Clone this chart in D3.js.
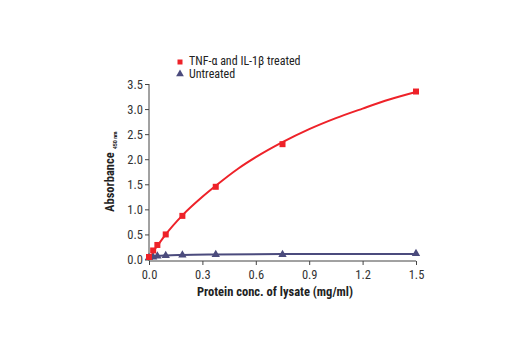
<!DOCTYPE html>
<html><head><meta charset="utf-8">
<script src="https://cdn.jsdelivr.net/npm/d3@7"></script>
<style>
body{margin:0;background:#fff;}
text{font-family:"Liberation Sans Narrow","Arial Narrow","Roboto Condensed",sans-serif;}
</style></head>
<body><svg id="c" width="520" height="350"></svg>
<script>
// concentrations (mg/ml)
const conc = [0, 0.0234, 0.047, 0.094, 0.1875, 0.375, 0.75, 1.5];
const treated = [0.05, 0.18, 0.29, 0.50, 0.87, 1.45, 2.30, 3.35];
const untreated = [0.04, 0.05, 0.07, 0.08, 0.09, 0.10, 0.10, 0.12];
// fitted curve
const fitX = [0.01, 0.0234, 0.047, 0.094, 0.1875, 0.3, 0.375, 0.5, 0.6, 0.75, 0.9, 1.05, 1.2, 1.35, 1.5];
const fitY = [0.0, 0.15, 0.27, 0.50, 0.88, 1.25, 1.47, 1.81, 2.04, 2.34, 2.60, 2.82, 3.01, 3.19, 3.34];
const fitUX = [0, 0.047, 0.094, 0.1875, 0.375, 0.75, 1.5];
const fitUY = [0.05, 0.07, 0.08, 0.09, 0.10, 0.11, 0.11];
const xTicks = [0, 0.3, 0.6, 0.9, 1.2, 1.5];
const yTicks = [0, 0.5, 1.0, 1.5, 2.0, 2.5, 3.0, 3.5];
const seriesNames = ["TNF-\u03b1 and IL-1\u03b2 treated", "Untreated"];
const red = "#ee2229", navy = "#4b4b7d";

const svg = d3.select("#c");
const x = d3.scaleLinear().domain([0, 1.5]).range([149, 416]);
const y = d3.scaleLinear().domain([0, 3.5]).range([259.5, 84]);

const axCol = "#444";
const gx = svg.append("g").attr("transform", "translate(0,261)")
  .call(d3.axisBottom(x).tickValues(xTicks).tickFormat(d3.format(".1f")).tickSize(4).tickSizeOuter(0));
const gy = svg.append("g").attr("transform", "translate(149,0)")
  .call(d3.axisLeft(y).tickValues(yTicks).tickFormat(d3.format(".1f")).tickSize(4).tickSizeOuter(0));
[gx, gy].forEach(g => {
  g.select(".domain").attr("stroke", axCol).attr("stroke-width", 1);
  g.selectAll(".tick line").attr("stroke", axCol);
  g.selectAll(".tick text").attr("fill", "#333").attr("font-size", 12.5)
    .attr("font-family", '"Liberation Sans Narrow","Arial Narrow",sans-serif');
});
gx.select(".domain").attr("d", "M149,0H416");
gy.select(".domain").attr("d", "M0,84V261");
gx.selectAll(".tick text").attr("dy", "0.9em");
gy.selectAll(".tick text").attr("x", -6);

// fit lines
const line = d3.line().x(d => x(d[0])).y(d => y(d[1])).curve(d3.curveMonotoneX);
svg.append("path").datum(fitUX.map((v, i) => [v, fitUY[i]]))
  .attr("d", line).attr("fill", "none").attr("stroke", navy).attr("stroke-width", 2);
svg.append("path").datum(fitX.map((v, i) => [v, fitY[i]]))
  .attr("d", line).attr("fill", "none").attr("stroke", red).attr("stroke-width", 2);

// markers
const tri = d3.symbol().type(d3.symbolTriangle).size(30);
svg.append("g").selectAll("path").data(conc.map((v, i) => [v, untreated[i]])).join("path")
  .attr("d", tri).attr("transform", d => `translate(${x(d[0])},${y(d[1])})`).attr("fill", navy);
svg.append("g").selectAll("rect").data(conc.map((v, i) => [v, treated[i]])).join("rect")
  .attr("x", d => x(d[0]) - 3).attr("y", d => y(d[1]) - 3).attr("width", 6).attr("height", 6).attr("fill", red);

// legend
const lg = svg.append("g");
lg.append("rect").attr("x", 177.5).attr("y", 59.5).attr("width", 5).attr("height", 5).attr("fill", red);
lg.append("path").attr("d", d3.symbol().type(d3.symbolTriangle).size(26)).attr("transform", "translate(180,74)").attr("fill", navy);
lg.append("text").attr("x", 189).attr("y", 65).attr("font-size", 12).attr("fill", "#222").text(seriesNames[0]);
lg.append("text").attr("x", 189).attr("y", 78).attr("font-size", 12).attr("fill", "#222").text(seriesNames[1]);

// axis titles
svg.append("text").attr("x", 275).attr("y", 296).attr("text-anchor", "middle")
  .attr("font-size", 12.5).attr("font-weight", "bold").attr("fill", "#222").text("Protein conc. of lysate (mg/ml)");
const yt = svg.append("text").attr("transform", "translate(114,212) rotate(-90)")
  .attr("font-size", 12.5).attr("font-weight", "bold").attr("fill", "#222");
yt.append("tspan").text("Absorbance");
yt.append("tspan").attr("dx", 3).attr("dy", 3).attr("font-size", 6).text("450 nm");
</script></body></html>
